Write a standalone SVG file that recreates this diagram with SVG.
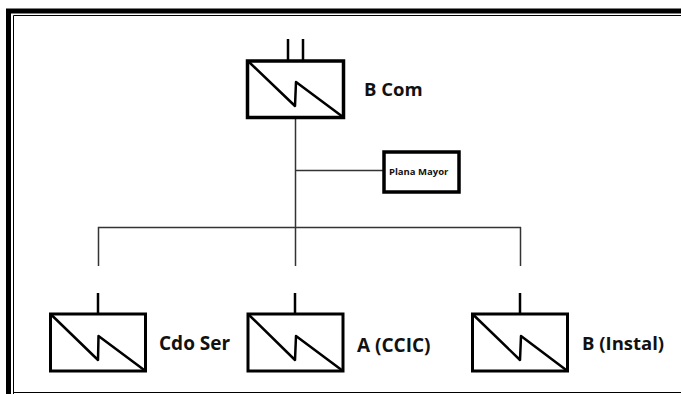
<svg xmlns="http://www.w3.org/2000/svg" width="681" height="394" viewBox="0 0 681 394">
<style>
.b{fill:#fff;stroke:#000;stroke-width:3}
.t{fill:#fff;stroke:#000;stroke-width:3.500}
.s{fill:none;stroke:#000;stroke-width:2.500}
.d{fill:none;stroke:#000;stroke-width:2.500;stroke-linejoin:round}
.c{fill:none;stroke:#333;stroke-width:1.500}
text{font-family:"Open Sans","Liberation Sans",sans-serif;font-weight:700;fill:#111}
.l{font-size:18.500px}
.m{font-size:19px}
</style>
<rect width="681" height="394" fill="#fff"/>
<g id="frame" fill="none" stroke="#000">
<path d="M8.500 394V11H681" stroke-width="5"/>
<path d="M13.500 394V15.500H681" stroke-width="1"/>
<path d="M13 392.500H681" stroke-width="1"/>
</g>
<g id="connectors">
<path class="c" d="M295.500 118V266M296 170.500H384M98.500 266V227.500H521M520.500 227V266"/>
</g>
<g id="b-com">
<path class="s" d="M288 39V61M303 39V61"/>
<rect class="t" x="247.500" y="61" width="96" height="56.500"/>
<path class="d" d="M248 61L295 106L296 82L343 117"/>
<text class="l" x="364" y="96">B Com</text>
</g>
<g id="plana-mayor">
<rect class="t" x="384" y="152" width="75" height="40"/>
<text x="389" y="175" font-size="9.500">Plana Mayor</text>
</g>
<g id="cdo-ser">
<path class="s" d="M98 293V314"/>
<rect class="b" x="50.500" y="314" width="95" height="57"/>
<path class="d" d="M50.500 314L98 360L98.500 336L145.500 371"/>
<text class="m" x="159" y="350">Cdo Ser</text>
</g>
<g id="a-ccic">
<path class="s" d="M295 293V314"/>
<rect class="b" x="248" y="314" width="95" height="57"/>
<path class="d" d="M248 314L295 360L296 336L343 371"/>
<text class="m" x="357" y="352">A (CCIC)</text>
</g>
<g id="b-instal">
<path class="s" d="M520 293V314"/>
<rect class="b" x="472.500" y="314" width="95" height="57"/>
<path class="d" d="M472.500 314L520 360L521 336L567.500 371"/>
<text class="l" x="582" y="350">B (Instal)</text>
</g>
</svg>
